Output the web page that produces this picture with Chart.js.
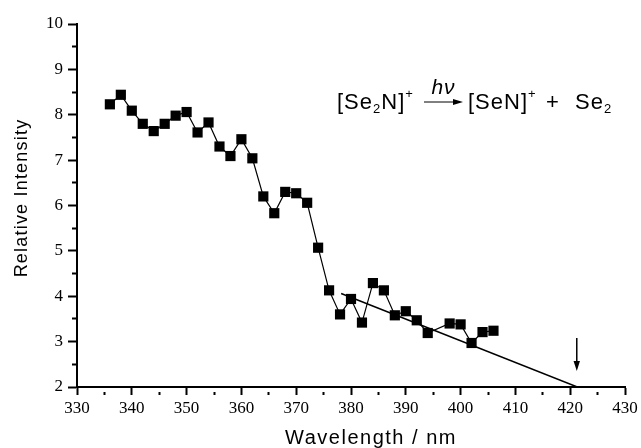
<!DOCTYPE html>
<html>
<head>
<meta charset="utf-8">
<script src="https://cdn.jsdelivr.net/npm/chart.js@4.4.1/dist/chart.umd.min.js"></script>
<style>
html, body { margin: 0; padding: 0; background: #fff; }
</style>
</head>
<body>
<canvas id="chart" width="641" height="448"></canvas>
<script>
// measured points (nm, relative intensity)
const wavelengths = [336, 338, 340, 342, 344, 346, 348, 350, 352, 354, 356, 358, 360, 362, 364,
    366, 368, 370, 372, 374, 376, 378, 380, 382, 384, 386, 388, 390, 392, 394, 398, 400, 402, 404, 406];
const intensities = [8.23, 8.44, 8.09, 7.80, 7.64, 7.80, 7.98, 8.06, 7.61, 7.83, 7.30, 7.09, 7.46, 7.04, 6.20,
    5.83, 6.30, 6.27, 6.06, 5.07, 4.13, 3.60, 3.94, 3.42, 4.29, 4.13, 3.58, 3.67, 3.47, 3.19, 3.40, 3.38, 2.97, 3.21, 3.24];

// straight line extrapolated to the baseline
const fitX = [378.2, 421.3];
const fitY = [4.06, 2.0];

// arrow marking the onset
const arrowX = 421.2;
const arrowY = [3.08, 2.35];

const xTicks = [330, 340, 350, 360, 370, 380, 390, 400, 410, 420, 430];
const yTicks = [2, 3, 4, 5, 6, 7, 8, 9, 10];

const sans = "'Liberation Sans', Arial, sans-serif";
const serif = "'Liberation Serif', 'Times New Roman', serif";

window.drawArrow = (chart)=>{
    let ctx = chart.ctx;
    let xs = chart.scales.x;
    let ys = chart.scales.y;
    let px = xs.getPixelForValue(arrowX);
    let y1 = ys.getPixelForValue(arrowY[0]);
    let y2 = ys.getPixelForValue(arrowY[1]);
    ctx.save();
    ctx.strokeStyle = "#000";
    ctx.fillStyle = "#000";
    ctx.lineWidth = 1.5;
    ctx.beginPath();
    ctx.moveTo(px, y1);
    ctx.lineTo(px, y2 - 8);
    ctx.stroke();
    ctx.beginPath();
    ctx.moveTo(px - 3.2, y2 - 10);
    ctx.lineTo(px + 3.2, y2 - 10);
    ctx.lineTo(px, y2);
    ctx.closePath();
    ctx.fill();
    ctx.restore();
}

window.drawEquation = (ctx)=>{
    let x = 337;
    let base = 109;
    let big = "22px " + sans;
    let small = "13px " + sans;
    let put = (txt, font, dy)=>{
        ctx.font = font;
        ctx.fillText(txt, x, base + dy);
        x += ctx.measureText(txt).width;
    };
    ctx.save();
    ctx.fillStyle = "#000";
    ctx.strokeStyle = "#000";
    ctx.textAlign = "left";
    ctx.textBaseline = "alphabetic";
    ctx.letterSpacing = "1px";
    put("[Se", big, 0);
    put("2", small, 4);
    put("N]", big, 0);
    put("+", small, -11);
    // reaction arrow with h nu above
    let ax1 = 424, ax2 = 463;
    ctx.lineWidth = 1;
    ctx.beginPath();
    ctx.moveTo(ax1, base - 7);
    ctx.lineTo(ax2 - 6, base - 7);
    ctx.stroke();
    ctx.beginPath();
    ctx.moveTo(ax2, base - 7);
    ctx.lineTo(ax2 - 10, base - 10);
    ctx.lineTo(ax2 - 10, base - 4);
    ctx.closePath();
    ctx.fill();
    ctx.font = "italic 21px " + sans;
    ctx.textAlign = "center";
    ctx.fillText("h\u03BD", (ax1 + ax2) / 2, base - 15);
    ctx.textAlign = "left";
    x = 468;
    put("[SeN]", big, 0);
    put("+", small, -11);
    x = 546;
    put("+", big, 0);
    x = 575;
    put("Se", big, 0);
    put("2", small, 4);
    ctx.restore();
}

window.drawTitles = (chart)=>{
    let ctx = chart.ctx;
    ctx.save();
    ctx.fillStyle = "#000";
    ctx.letterSpacing = "1.5px";
    ctx.font = "20px " + sans;
    ctx.textAlign = "center";
    ctx.textBaseline = "alphabetic";
    ctx.fillText("Wavelength / nm", 371, 444);

    ctx.font = "18px " + sans;
    ctx.letterSpacing = "1.2px";
    ctx.translate(27, 198);
    ctx.rotate(-Math.PI / 2);
    ctx.fillText("Relative Intensity", 0, 0);
    ctx.restore();

    drawEquation(ctx);
}

const decorPlugin = {
    id: "decor",
    afterDraw: (chart)=>{
        drawArrow(chart);
        drawTitles(chart);
    }
};

let points = [];
for(let i = 0; i < wavelengths.length; i++){
    points.push({x: wavelengths[i], y: intensities[i]});
}
let fitPoints = [];
for(let i = 0; i < fitX.length; i++){
    fitPoints.push({x: fitX[i], y: fitY[i]});
}

let chartCanvas = document.querySelector("#chart");

let chartObject = new Chart(chartCanvas, {
    type: "scatter",
    data: {
        datasets: [{
            label: "Intensity",
            data: points,
            showLine: true,
            borderColor: "#000",
            borderWidth: 1.2,
            pointStyle: "rect",
            pointRadius: 7.2,
            pointHoverRadius: 7.2,
            pointBackgroundColor: "#000",
            pointBorderWidth: 0
        }, {
            label: "Fit",
            data: fitPoints,
            showLine: true,
            borderColor: "#000",
            borderWidth: 1.5,
            pointRadius: 0
        }]
    },
    options: {
        responsive: false,
        animation: false,
        events: [],
        layout: {
            padding: {top: 24, right: 16, left: 0, bottom: 0}
        },
        plugins: {
            legend: {display: false},
            tooltip: {enabled: false}
        },
        scales: {
            x: {
                type: "linear",
                min: xTicks[0],
                max: xTicks[xTicks.length - 1],
                afterFit: (scale)=>{ scale.height = 61; },
                border: {display: true, color: "#000", width: 2},
                grid: {
                    drawOnChartArea: false,
                    tickLength: 8,
                    tickColor: "#000",
                    tickWidth: 2,
                    // minor ticks: only the half next to the axis
                    tickBorderDash: (c)=> (c.tick && xTicks.includes(c.tick.value)) ? [] : [0, 4, 5, 40]
                },
                ticks: {
                    stepSize: 5,
                    autoSkip: false,
                    maxRotation: 0,
                    padding: 3,
                    color: "#000",
                    font: {family: serif, size: 17},
                    callback: (v)=> xTicks.includes(v) ? v : ""
                }
            },
            y: {
                type: "linear",
                min: yTicks[0],
                max: yTicks[yTicks.length - 1],
                afterFit: (scale)=>{ scale.width = 77; },
                border: {display: true, color: "#000", width: 2},
                grid: {
                    drawOnChartArea: false,
                    tickLength: 9,
                    tickColor: "#000",
                    tickWidth: 2,
                    tickBorderDash: (c)=> (c.tick && yTicks.includes(c.tick.value)) ? [] : [0, 4, 6, 40]
                },
                ticks: {
                    stepSize: 0.5,
                    autoSkip: false,
                    padding: 5,
                    color: "#000",
                    font: {family: serif, size: 17},
                    callback: (v)=> yTicks.includes(v) ? v : ""
                }
            }
        }
    },
    plugins: [decorPlugin]
});
</script>
</body>
</html>
